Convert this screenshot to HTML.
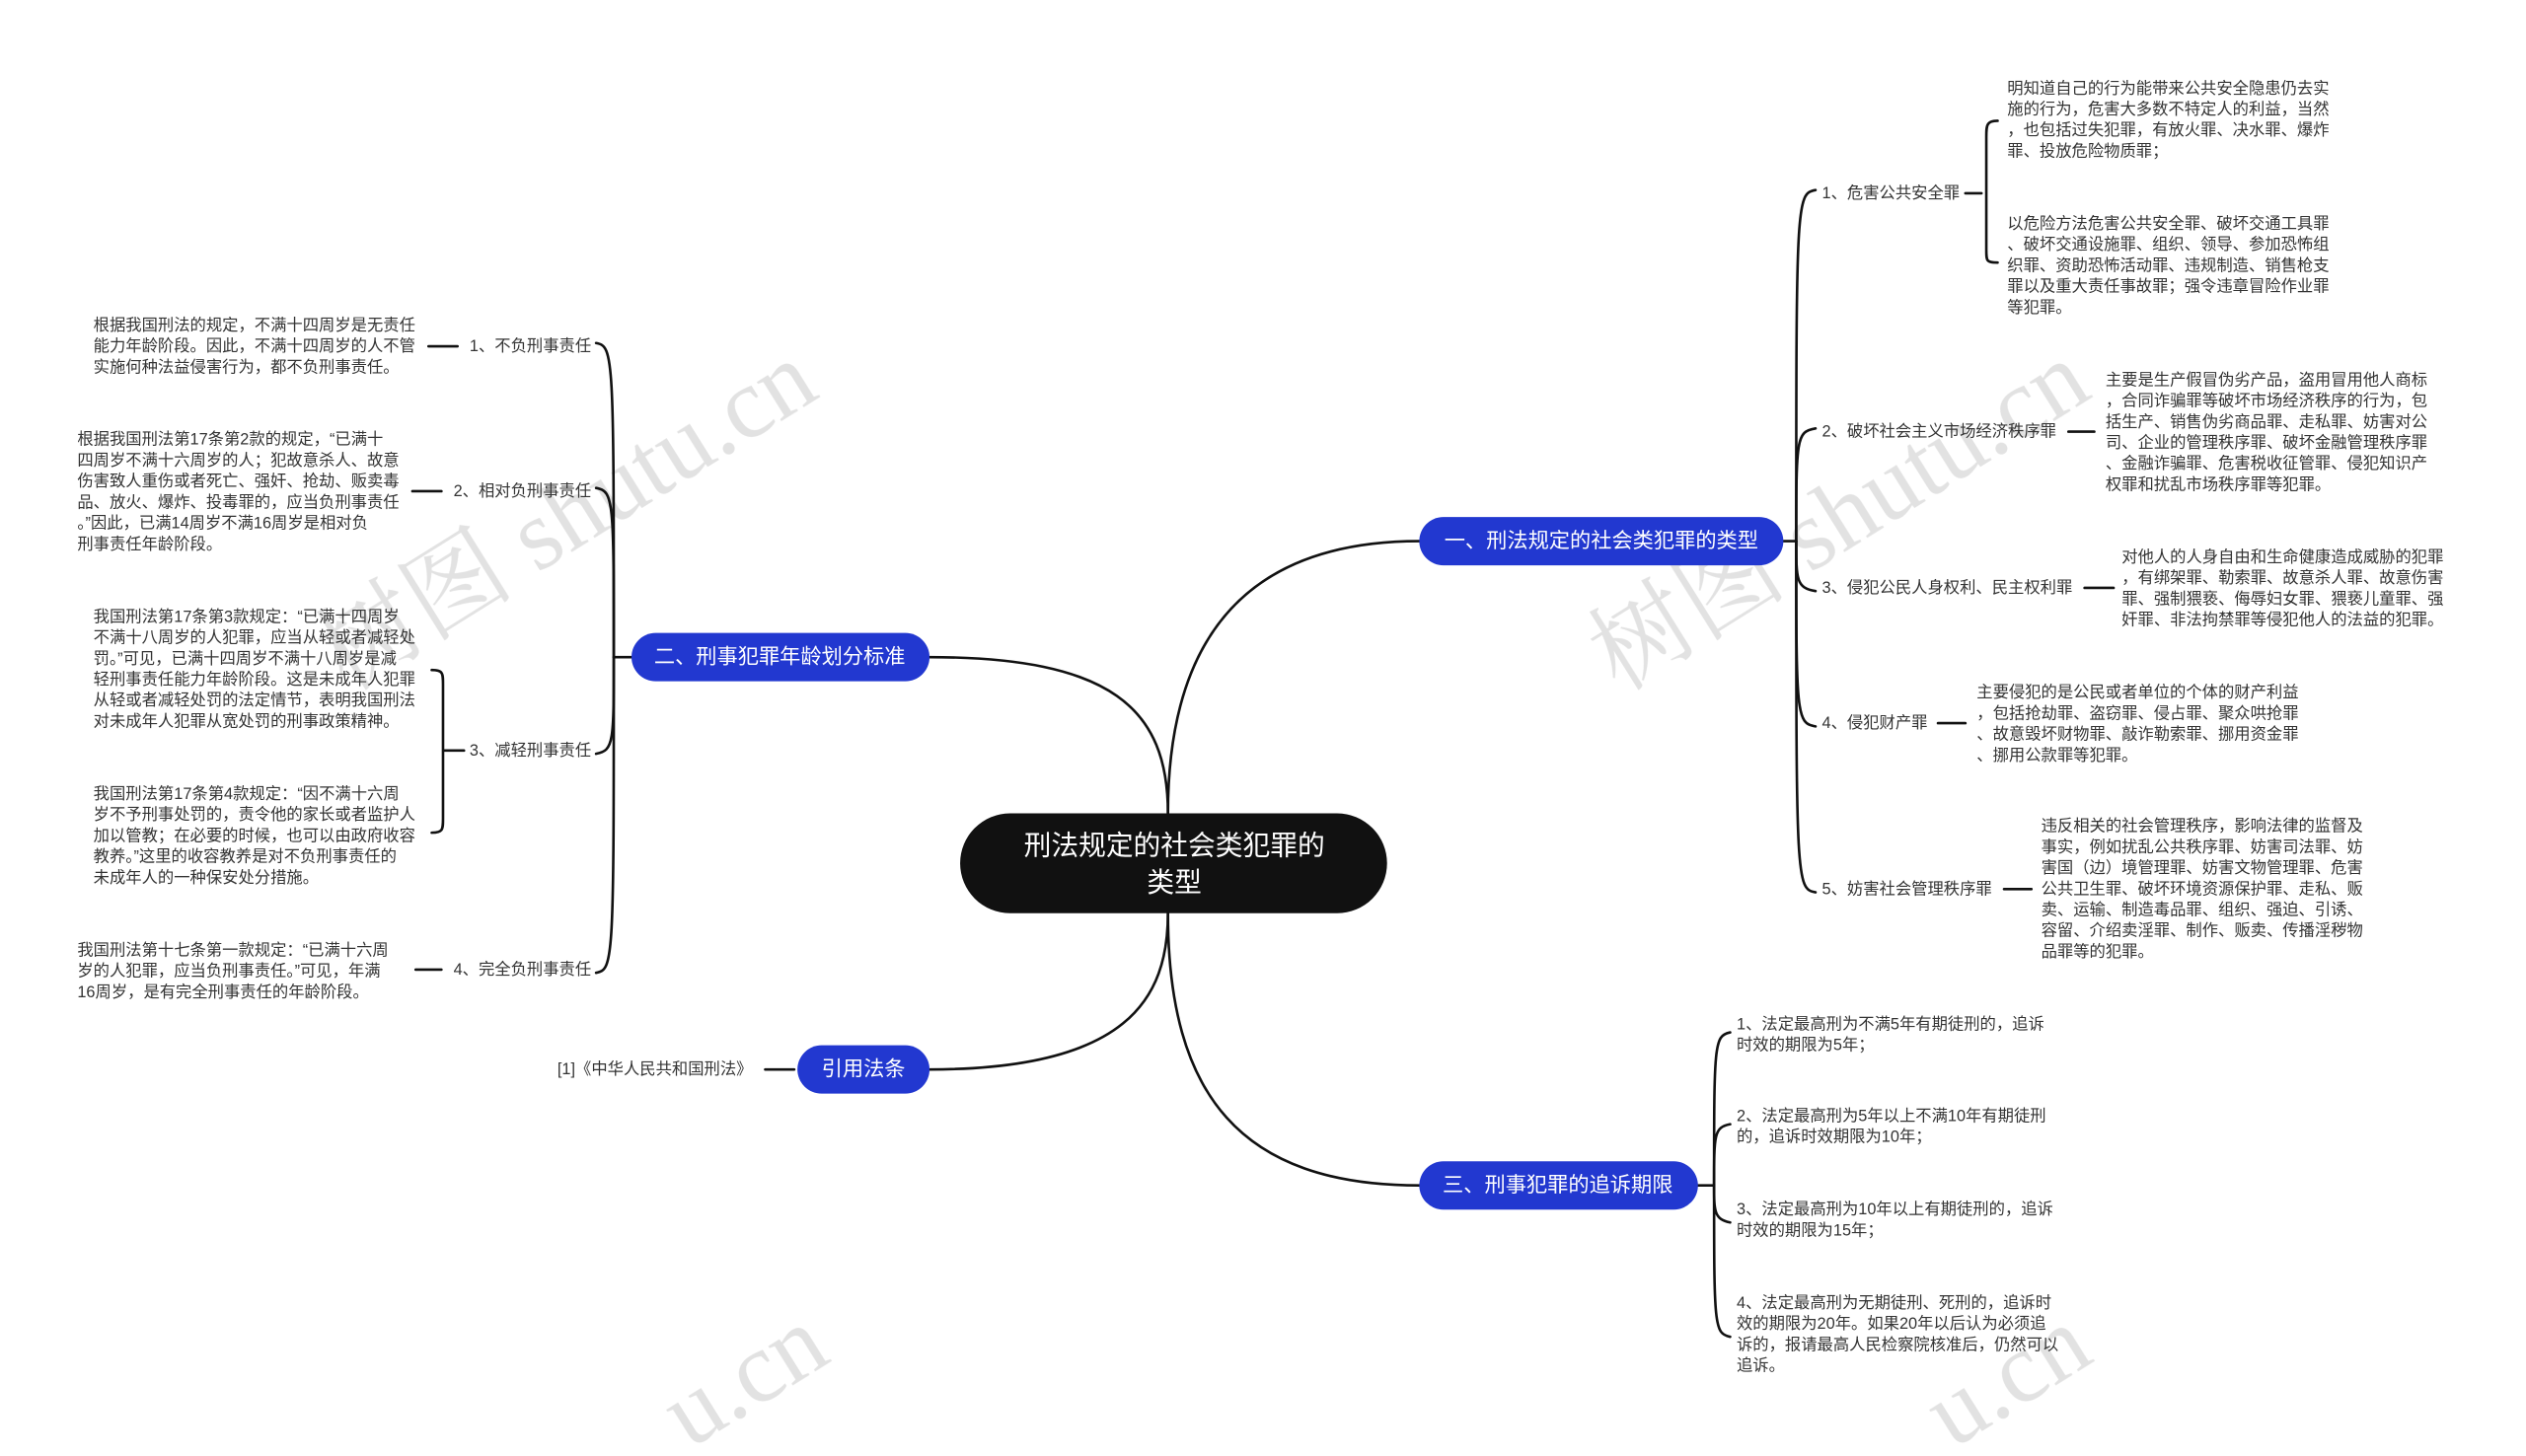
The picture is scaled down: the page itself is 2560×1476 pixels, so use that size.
<!DOCTYPE html>
<html><head><meta charset="utf-8"><style>
html,body{margin:0;padding:0;background:#fff;width:2560px;height:1476px;overflow:hidden;}
svg{display:block;}
text{font-family:"Liberation Sans","Noto Sans CJK SC",sans-serif;}
.t{font-size:10px;fill:#333;dominant-baseline:central;}
.p{font-size:13px;fill:#fff;dominant-baseline:central;text-anchor:middle;}
.w{font-size:62px;fill:#d9d9d9;font-family:"Liberation Serif","Noto Serif CJK SC",serif;}
</style></head><body>
<svg width="2560" height="1476" viewBox="0 0 1568 904" preserveAspectRatio="none" xmlns="http://www.w3.org/2000/svg" overflow="hidden">
<rect width="1568" height="904" fill="#fff"/>
<g opacity="0.75">
<text class="w" transform="translate(215,430) rotate(-32)">树图 shutu.cn</text>
<text class="w" transform="translate(1005,430) rotate(-32)">树图 shutu.cn</text>
<text class="w" transform="translate(428,900) rotate(-32)">u.cn</text>
<text class="w" transform="translate(1212,900) rotate(-32)">u.cn</text>
</g>
<g fill="none" stroke="#111" stroke-width="1.6" stroke-linecap="round">
<path d="M725,505 C725,400 770,336 881,336"/>
<path d="M725,567 C725,680 770,736 881,736"/>
<path d="M725,505 C725,440 690,408 577,408"/>
<path d="M725,567 C725,620 700,664 577,664"/>
<path d="M1107,336 L1115,336"/>
<path d="M1115,336 C1115,125 1115,120 1127,118"/>
<path d="M1115,336 C1115,272 1115,268 1127,266"/>
<path d="M1115,336 C1115,360 1115,365 1127,367"/>
<path d="M1115,336 C1115,444 1115,449 1127,451"/>
<path d="M1115,336 C1115,547 1115,552 1127,554"/>
<path d="M1220,120 L1230,120"/>
<path d="M1240,75 C1233,75 1233,78 1233,85 L1233,155 C1233,162 1233,163 1240,163"/>
<path d="M1284,268 L1300,268"/>
<path d="M1294,365 L1312,365"/>
<path d="M1203,449 L1220,449"/>
<path d="M1244,552 L1261,552"/>
<path d="M1054,736 L1064,736"/>
<path d="M1064,736 C1064,648 1064,643 1074,641"/>
<path d="M1064,736 C1064,704 1064,700 1074,698"/>
<path d="M1064,736 C1064,752 1064,757 1074,759"/>
<path d="M1064,736 C1064,823 1064,828 1074,830"/>
<path d="M392,408 L381,408"/>
<path d="M381,408 C381,220 381,215 370,213"/>
<path d="M381,408 C381,310 381,305 370,303"/>
<path d="M381,408 C381,461 381,466 370,468"/>
<path d="M381,408 C381,597 381,602 370,604"/>
<path d="M266,215 L284,215"/>
<path d="M256,305 L274,305"/>
<path d="M288,466 L276,466"/>
<path d="M268,416 C275,416 275,418 275,425 L275,508 C275,515 275,517 268,517"/>
<path d="M258,602 L274,602"/>
<path d="M475,664 L493,664"/>
</g>
<rect x="596" y="505" width="265" height="62" rx="31" fill="#111"/>
<text x="729" y="525" style="font-size:17px;fill:#fff;dominant-baseline:central;text-anchor:middle">刑法规定的社会类犯罪的</text>
<text x="729" y="548" style="font-size:17px;fill:#fff;dominant-baseline:central;text-anchor:middle">类型</text>
<rect x="881" y="321" width="226" height="30" rx="15" fill="#2238d0"/>
<text class="p" x="994" y="336">一、刑法规定的社会类犯罪的类型</text>
<rect x="392" y="393" width="185" height="30" rx="15" fill="#2238d0"/>
<text class="p" x="484" y="408">二、刑事犯罪年龄划分标准</text>
<rect x="495" y="649" width="82" height="30" rx="15" fill="#2238d0"/>
<text class="p" x="536" y="664">引用法条</text>
<rect x="881" y="721" width="173" height="30" rx="15" fill="#2238d0"/>
<text class="p" x="967" y="736">三、刑事犯罪的追诉期限</text>
<g class="t">
<text class="t" x="1131" y="120">1、危害公共安全罪</text>
<text class="t" x="1131" y="268">2、破坏社会主义市场经济秩序罪</text>
<text class="t" x="1131" y="365">3、侵犯公民人身权利、民主权利罪</text>
<text class="t" x="1131" y="449">4、侵犯财产罪</text>
<text class="t" x="1131" y="552">5、妨害社会管理秩序罪</text>
<text class="t" x="1246" y="55">明知道自己的行为能带来公共安全隐患仍去实</text>
<text class="t" x="1246" y="68">施的行为，危害大多数不特定人的利益，当然</text>
<text class="t" x="1246" y="81">，也包括过失犯罪，有放火罪、决水罪、爆炸</text>
<text class="t" x="1246" y="94">罪、投放危险物质罪；</text>
<text class="t" x="1246" y="139">以危险方法危害公共安全罪、破坏交通工具罪</text>
<text class="t" x="1246" y="152">、破坏交通设施罪、组织、领导、参加恐怖组</text>
<text class="t" x="1246" y="165">织罪、资助恐怖活动罪、违规制造、销售枪支</text>
<text class="t" x="1246" y="178">罪以及重大责任事故罪；强令违章冒险作业罪</text>
<text class="t" x="1246" y="191">等犯罪。</text>
<text class="t" x="1307" y="236">主要是生产假冒伪劣产品，盗用冒用他人商标</text>
<text class="t" x="1307" y="249">，合同诈骗罪等破坏市场经济秩序的行为，包</text>
<text class="t" x="1307" y="262">括生产、销售伪劣商品罪、走私罪、妨害对公</text>
<text class="t" x="1307" y="275">司、企业的管理秩序罪、破坏金融管理秩序罪</text>
<text class="t" x="1307" y="288">、金融诈骗罪、危害税收征管罪、侵犯知识产</text>
<text class="t" x="1307" y="301">权罪和扰乱市场秩序罪等犯罪。</text>
<text class="t" x="1317" y="346">对他人的人身自由和生命健康造成威胁的犯罪</text>
<text class="t" x="1317" y="359">，有绑架罪、勒索罪、故意杀人罪、故意伤害</text>
<text class="t" x="1317" y="372">罪、强制猥亵、侮辱妇女罪、猥亵儿童罪、强</text>
<text class="t" x="1317" y="385">奸罪、非法拘禁罪等侵犯他人的法益的犯罪。</text>
<text class="t" x="1227" y="430">主要侵犯的是公民或者单位的个体的财产利益</text>
<text class="t" x="1227" y="443">，包括抢劫罪、盗窃罪、侵占罪、聚众哄抢罪</text>
<text class="t" x="1227" y="456">、故意毁坏财物罪、敲诈勒索罪、挪用资金罪</text>
<text class="t" x="1227" y="469">、挪用公款罪等犯罪。</text>
<text class="t" x="1267" y="513">违反相关的社会管理秩序，影响法律的监督及</text>
<text class="t" x="1267" y="526">事实，例如扰乱公共秩序罪、妨害司法罪、妨</text>
<text class="t" x="1267" y="539">害国（边）境管理罪、妨害文物管理罪、危害</text>
<text class="t" x="1267" y="552">公共卫生罪、破坏环境资源保护罪、走私、贩</text>
<text class="t" x="1267" y="565">卖、运输、制造毒品罪、组织、强迫、引诱、</text>
<text class="t" x="1267" y="578">容留、介绍卖淫罪、制作、贩卖、传播淫秽物</text>
<text class="t" x="1267" y="591">品罪等的犯罪。</text>
<text class="t" x="1078" y="636">1、法定最高刑为不满5年有期徒刑的，追诉</text>
<text class="t" x="1078" y="649">时效的期限为5年；</text>
<text class="t" x="1078" y="693">2、法定最高刑为5年以上不满10年有期徒刑</text>
<text class="t" x="1078" y="706">的，追诉时效期限为10年；</text>
<text class="t" x="1078" y="751">3、法定最高刑为10年以上有期徒刑的，追诉</text>
<text class="t" x="1078" y="764">时效的期限为15年；</text>
<text class="t" x="1078" y="809">4、法定最高刑为无期徒刑、死刑的，追诉时</text>
<text class="t" x="1078" y="822">效的期限为20年。如果20年以后认为必须追</text>
<text class="t" x="1078" y="835">诉的，报请最高人民检察院核准后，仍然可以</text>
<text class="t" x="1078" y="848">追诉。</text>
<text class="t" x="367" y="215" text-anchor="end">1、不负刑事责任</text>
<text class="t" x="367" y="305" text-anchor="end">2、相对负刑事责任</text>
<text class="t" x="367" y="466" text-anchor="end">3、减轻刑事责任</text>
<text class="t" x="367" y="602" text-anchor="end">4、完全负刑事责任</text>
<text class="t" x="58" y="202">根据我国刑法的规定，不满十四周岁是无责任</text>
<text class="t" x="58" y="215">能力年龄阶段。因此，不满十四周岁的人不管</text>
<text class="t" x="58" y="228">实施何种法益侵害行为，都不负刑事责任。</text>
<text class="t" x="48" y="273">根据我国刑法第17条第2款的规定，“已满十</text>
<text class="t" x="48" y="286">四周岁不满十六周岁的人；犯故意杀人、故意</text>
<text class="t" x="48" y="299">伤害致人重伤或者死亡、强奸、抢劫、贩卖毒</text>
<text class="t" x="48" y="312">品、放火、爆炸、投毒罪的，应当负刑事责任</text>
<text class="t" x="48" y="325">。”因此，已满14周岁不满16周岁是相对负</text>
<text class="t" x="48" y="338">刑事责任年龄阶段。</text>
<text class="t" x="58" y="383">我国刑法第17条第3款规定：“已满十四周岁</text>
<text class="t" x="58" y="396">不满十八周岁的人犯罪，应当从轻或者减轻处</text>
<text class="t" x="58" y="409">罚。”可见，已满十四周岁不满十八周岁是减</text>
<text class="t" x="58" y="422">轻刑事责任能力年龄阶段。这是未成年人犯罪</text>
<text class="t" x="58" y="435">从轻或者减轻处罚的法定情节，表明我国刑法</text>
<text class="t" x="58" y="448">对未成年人犯罪从宽处罚的刑事政策精神。</text>
<text class="t" x="58" y="493">我国刑法第17条第4款规定：“因不满十六周</text>
<text class="t" x="58" y="506">岁不予刑事处罚的，责令他的家长或者监护人</text>
<text class="t" x="58" y="519">加以管教；在必要的时候，也可以由政府收容</text>
<text class="t" x="58" y="532">教养。”这里的收容教养是对不负刑事责任的</text>
<text class="t" x="58" y="545">未成年人的一种保安处分措施。</text>
<text class="t" x="48" y="590">我国刑法第十七条第一款规定：“已满十六周</text>
<text class="t" x="48" y="603">岁的人犯罪，应当负刑事责任。”可见，年满</text>
<text class="t" x="48" y="616">16周岁，是有完全刑事责任的年龄阶段。</text>
<text class="t" x="467" y="664" text-anchor="end">[1]《中华人民共和国刑法》</text>
</g>
</svg>
</body></html>
